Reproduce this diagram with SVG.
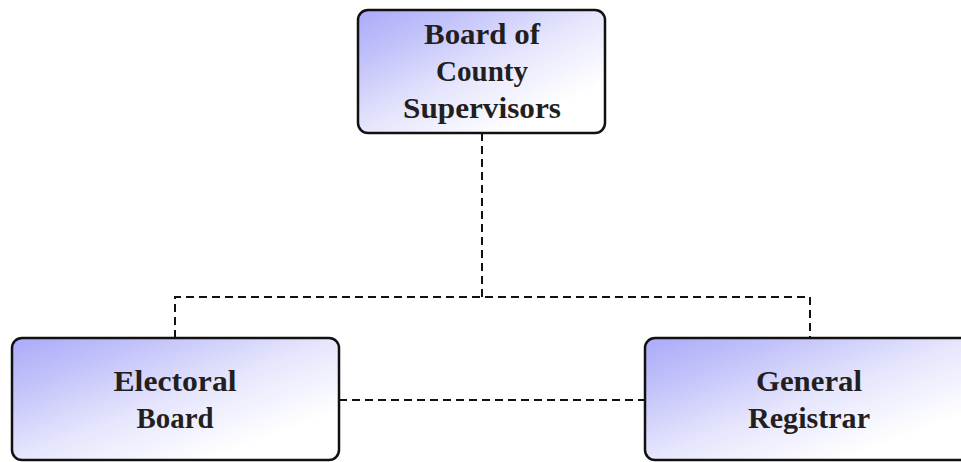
<svg xmlns="http://www.w3.org/2000/svg" width="961" height="462" viewBox="0 0 961 462">
  <defs>
    <linearGradient id="boxFill" x1="0" y1="0" x2="1" y2="1">
      <stop offset="0" stop-color="#aaaaf9"/>
      <stop offset="0.2" stop-color="#c0c0fa"/>
      <stop offset="0.5" stop-color="#e6e6fd"/>
      <stop offset="0.8" stop-color="#ffffff"/>
      <stop offset="1" stop-color="#ffffff"/>
    </linearGradient>
  </defs>
  <style>
    .box { fill: url(#boxFill); stroke: #111; stroke-width: 2.5; }
    .label { font-family: "Liberation Serif", "Times New Roman", "DejaVu Serif", serif; font-weight: bold; font-size: 29px; fill: #231f20; text-anchor: middle; }
    .link { fill: none; stroke: #111; stroke-width: 2; stroke-dasharray: 8 5; }
  </style>
  <rect width="961" height="462" fill="#ffffff"/>

  <g id="connectors">
    <path class="link" d="M482,133 V297"/>
    <path class="link" d="M175,338 V297 H810 V338"/>
    <path class="link" d="M339,400 H645"/>
  </g>

  <g id="board-of-supervisors">
    <rect class="box" x="358" y="10" width="247" height="123" rx="10"/>
    <text class="label" x="482" y="44" textLength="116" lengthAdjust="spacingAndGlyphs">Board of</text>
    <text class="label" x="482" y="81" textLength="92" lengthAdjust="spacingAndGlyphs">County</text>
    <text class="label" x="482" y="118" textLength="158" lengthAdjust="spacingAndGlyphs">Supervisors</text>
  </g>

  <g id="electoral-board">
    <rect class="box" x="12" y="338" width="327" height="122" rx="10"/>
    <text class="label" x="175" y="391" textLength="123" lengthAdjust="spacingAndGlyphs">Electoral</text>
    <text class="label" x="175" y="428" textLength="77" lengthAdjust="spacingAndGlyphs">Board</text>
  </g>

  <g id="general-registrar">
    <rect class="box" x="645" y="338" width="330" height="122" rx="10"/>
    <text class="label" x="809" y="391" textLength="106" lengthAdjust="spacingAndGlyphs">General</text>
    <text class="label" x="809" y="428" textLength="122" lengthAdjust="spacingAndGlyphs">Registrar</text>
  </g>
</svg>
